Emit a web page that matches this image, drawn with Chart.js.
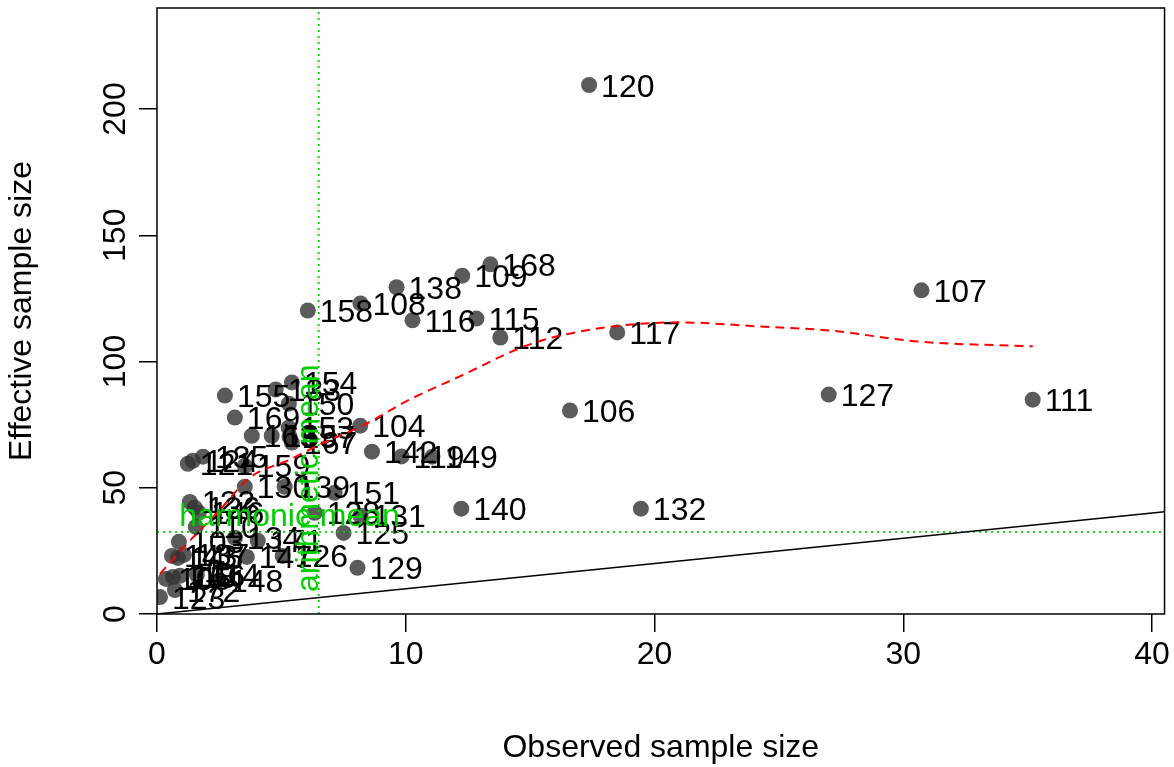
<!DOCTYPE html>
<html>
<head>
<meta charset="utf-8">
<script src="https://cdn.jsdelivr.net/npm/chart.js@4.4.0/dist/chart.umd.min.js"></script>
<style>
  body { margin: 0; background: #fff; }
  canvas { display: block; }
</style>
</head>
<body>
<canvas id="essChart" width="1174" height="767"></canvas>
<script>
// sample labels, observed (x) and effective (y) sample sizes
const sampleIds = [120, 168, 109, 138, 108, 158, 116, 115, 112, 117, 107, 127, 111, 106, 140, 132,
    129, 125, 104, 142, 119, 149, 151, 139, 128, 131, 126, 155, 169, 133, 154, 150,
    163, 165, 153, 157, 167, 121, 124, 135, 159, 130, 122, 136, 146, 110, 103, 134,
    171, 147, 148, 172, 143, 145, 137, 105, 118, 166, 114, 123];
const observedSize = [17.37, 13.40, 12.27, 9.63, 8.18, 6.06, 10.27, 12.84, 13.80, 18.50, 30.73, 27.00, 35.20, 16.60, 12.23, 19.45,
    8.06, 7.50, 8.17, 8.64, 9.83, 11.07, 7.14, 5.13, 6.34, 8.18, 5.05, 2.73, 3.13, 4.77, 5.42, 5.30,
    3.81, 4.61, 5.29, 5.33, 5.42, 1.24, 1.44, 1.85, 3.53, 3.53, 1.32, 1.52, 1.68, 1.56, 0.88, 3.13,
    4.05, 3.61, 2.45, 0.72, 0.60, 0.84, 1.08, 0.36, 0.64, 0.92, 1.60, 0.12];
const effectiveSize = [209.5, 138.5, 134.0, 129.4, 123.0, 120.2, 116.3, 117.0, 109.5, 111.5, 128.2, 86.9, 84.9, 80.6, 41.7, 41.7,
    18.3, 32.1, 74.6, 64.3, 62.4, 62.3, 48.0, 50.4, 40.1, 38.9, 23.0, 86.5, 77.8, 88.9, 91.7, 83.3,
    70.6, 70.6, 73.8, 70.2, 67.9, 59.5, 60.7, 62.3, 58.7, 50.4, 44.4, 42.1, 40.1, 34.5, 28.6, 30.2,
    29.0, 22.6, 13.1, 9.5, 23.0, 22.2, 23.4, 13.9, 14.7, 15.1, 15.5, 6.7];

// smoothed trend (red dashed)
const trendObserved = [0.12, 1.24, 2.53, 3.73, 5.33, 6.54, 8.34, 10.15, 12.15, 14.96, 17.49, 20.98, 24.19, 27.0, 30.6, 35.2];
const trendEffective = [15.9, 28.2, 41.3, 54.0, 61.1, 67.1, 75.0, 84.9, 94.0, 106.7, 112.7, 115.5, 113.9, 112.3, 107.9, 106.0];

const arithmeticMean = 6.5;
const harmonicMean = 32.5;

const xTickValues = [0, 10, 20, 30, 40];
const yTickValues = [0, 50, 100, 150, 200];

const FONT = "'Liberation Sans', Arial, sans-serif";
const GREEN = "#00cd00";

document.addEventListener("DOMContentLoaded", function () {
    const points = sampleIds.map((id, i) => ({ x: observedSize[i], y: effectiveSize[i] }));
    const trend = trendObserved.map((x, i) => ({ x: x, y: trendEffective[i] }));

    // labels next to each point, drawn right after the point layer
    const pointLabels = {
        id: "pointLabels",
        afterDatasetDraw(chart, args) {
            if (args.index !== 0) return;
            const ctx = chart.ctx;
            const xs = chart.scales.x, ys = chart.scales.y;
            ctx.save();
            ctx.fillStyle = "#000";
            ctx.font = "32px " + FONT;
            ctx.textAlign = "left";
            ctx.textBaseline = "alphabetic";
            sampleIds.forEach((id, i) => {
                const px = xs.getPixelForValue(observedSize[i]);
                const py = ys.getPixelForValue(effectiveSize[i]);
                ctx.fillText(String(id), px + 12, py + 11.5);
            });
            ctx.restore();
        }
    };

    // box, rotated y tick labels and mean captions
    const decorations = {
        id: "decorations",
        afterDraw(chart) {
            const ctx = chart.ctx;
            const a = chart.chartArea;
            const xs = chart.scales.x, ys = chart.scales.y;
            ctx.save();
            ctx.strokeStyle = "#000";
            ctx.lineWidth = 1.5;
            ctx.strokeRect(a.left, a.top, a.right - a.left, a.bottom - a.top);

            ctx.fillStyle = "#000";
            ctx.font = "32px " + FONT;
            ctx.textAlign = "center";
            ctx.textBaseline = "alphabetic";
            yTickValues.forEach(v => {
                const py = ys.getPixelForValue(v);
                ctx.save();
                ctx.translate(125, py);
                ctx.rotate(-Math.PI / 2);
                ctx.fillText(String(v), 0, 0);
                ctx.restore();
            });

            ctx.fillStyle = GREEN;
            ctx.fillText("harmonic mean", xs.getPixelForValue(5.33), ys.getPixelForValue(harmonicMean) - 6);
            ctx.save();
            ctx.translate(xs.getPixelForValue(arithmeticMean) - 1, ys.getPixelForValue(53.8));
            ctx.rotate(-Math.PI / 2);
            ctx.fillText("arithmetic mean", 0, 0);
            ctx.restore();
            ctx.restore();
        }
    };

    const ctx = document.getElementById("essChart").getContext("2d");
    new Chart(ctx, {
        type: "scatter",
        data: {
            datasets: [{
                label: "samples",
                data: points,
                backgroundColor: "rgba(50,50,50,0.8)",
                borderWidth: 0,
                pointRadius: 8,
                order: 5
            }, {
                label: "trend",
                data: trend,
                showLine: true,
                borderColor: "#ff0000",
                borderWidth: 2,
                borderDash: [9, 6],
                cubicInterpolationMode: "monotone",
                pointRadius: 0,
                order: 1
            }, {
                label: "identity",
                data: [{ x: 0, y: 0 }, { x: 40.5, y: 40.5 }],
                showLine: true,
                borderColor: "#000",
                borderWidth: 1.5,
                pointRadius: 0,
                order: 2
            }, {
                label: "arithmetic",
                data: [{ x: arithmeticMean, y: 0 }, { x: arithmeticMean, y: 240 }],
                showLine: true,
                borderColor: GREEN,
                borderWidth: 1.8,
                borderDash: [2, 4],
                pointRadius: 0,
                order: 3
            }, {
                label: "harmonic",
                data: [{ x: 0, y: harmonicMean }, { x: 40.5, y: harmonicMean }],
                showLine: true,
                borderColor: GREEN,
                borderWidth: 1.8,
                borderDash: [2, 4],
                pointRadius: 0,
                order: 3
            }]
        },
        options: {
            responsive: false,
            animation: false,
            layout: { padding: { top: 8, right: 8 } },
            plugins: {
                legend: { display: false },
                tooltip: { enabled: false }
            },
            scales: {
                x: {
                    type: "linear",
                    min: 0,
                    max: 40.5,
                    afterFit: s => { s.height = 153; },
                    afterBuildTicks: s => { s.ticks = xTickValues.map(v => ({ value: v })); },
                    border: { display: false },
                    grid: { drawOnChartArea: false, drawTicks: true, tickLength: 18, color: "#000", lineWidth: 1.5 },
                    ticks: { color: "#000", font: { size: 32, family: FONT }, padding: 4, maxRotation: 0 },
                    title: { display: true, text: "Observed sample size", color: "#000", font: { size: 32, family: FONT }, padding: 0 }
                },
                y: {
                    type: "linear",
                    min: 0,
                    max: 240,
                    afterFit: s => { s.width = 157; },
                    afterBuildTicks: s => { s.ticks = yTickValues.map(v => ({ value: v })); },
                    border: { display: false },
                    grid: { drawOnChartArea: false, drawTicks: true, tickLength: 18, color: "#000", lineWidth: 1.5 },
                    ticks: { display: false },
                    title: { display: true, text: "Effective sample size", color: "#000", font: { size: 32, family: FONT }, padding: { top: 3 } }
                }
            }
        },
        plugins: [pointLabels, decorations]
    });
});
</script>
</body>
</html>
